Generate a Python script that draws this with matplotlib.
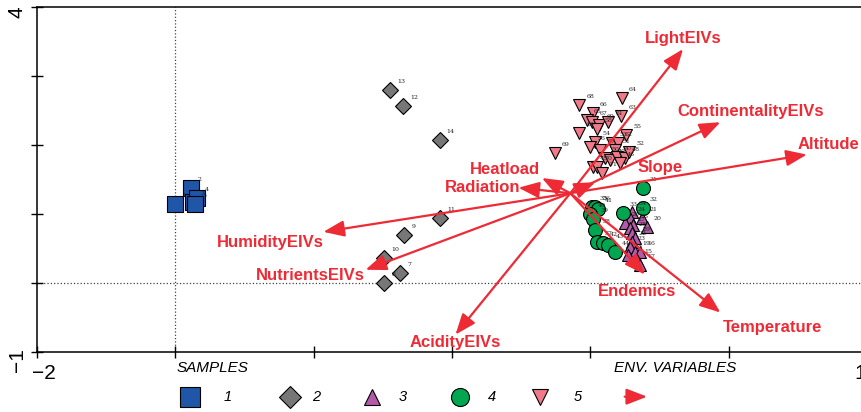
import matplotlib
matplotlib.use("Agg")
import matplotlib.pyplot as plt
from matplotlib.lines import Line2D

# ---- data ----
g1_x = [0.00, 0.22, 0.26, 0.32, 0.29]
g1_y = [1.14, 1.38, 1.17, 1.23, 1.14]
g1_lab = ["1", "2", "3", "4", "5"]

g2_x = [3.11, 3.29, 3.82, 3.83, 3.31, 3.02, 3.25, 3.02]
g2_y = [2.80, 2.57, 2.07, 0.94, 0.70, 0.36, 0.14, 0.00]
g2_lab = ["13", "12", "14", "11", "9", "10", "7", "8"]

g3_x = [6.60, 6.58, 6.50, 6.62, 6.75, 6.82, 6.58, 6.60, 6.65, 6.60, 6.58, 6.65, 6.54, 6.72, 6.68, 6.72]
g3_y = [1.03, 0.94, 0.87, 0.84, 0.94, 0.81, 0.80, 0.72, 0.65, 0.59, 0.52, 0.45, 0.41, 0.45, 0.33, 0.26]
g3_lab = ["34", "24", "26", "25", "21", "20", "27", "28", "29", "22", "23", "19", "18", "16", "15", "17"]

g4_x = [6.76, 6.76, 6.03, 6.07, 6.11, 6.00, 6.04, 6.07, 6.10, 6.18, 6.26, 6.36, 6.47]
g4_y = [1.38, 1.09, 1.10, 1.10, 1.07, 1.00, 0.93, 0.77, 0.59, 0.58, 0.55, 0.45, 1.01]
g4_lab = ["31", "32", "35", "36", "41", "40", "39", "38", "37", "42", "43", "44", "33"]

g5_x = [6.46, 5.84, 6.04, 5.95, 6.03, 6.13, 6.26, 6.45, 6.10, 5.84, 5.49, 6.52, 6.07,
        6.00, 6.14, 6.32, 6.40, 6.36, 6.21, 6.29, 6.39, 6.50, 6.43, 6.04, 6.10, 6.17, 6.56]
g5_y = [2.68, 2.58, 2.46, 2.36, 2.33, 2.29, 2.33, 2.42, 2.23, 2.17, 1.88, 2.14, 2.04,
        1.97, 1.93, 2.03, 2.03, 1.93, 1.81, 1.78, 1.83, 1.81, 1.74, 1.68, 1.68, 1.59, 1.90]
g5_lab = ["64", "68", "66", "65", "67", "60", "61", "63", "58", "59", "69", "55", "54",
          "56", "57", "53", "62", "51", "50", "49", "47", "48", "46", "45", "70", "71", "52"]

origin = (5.71, 1.30)
env_names = ["LightEIVs", "ContinentalityEIVs", "Altitude", "Slope", "Heatload", "Radiation",
             "HumidityEIVs", "NutrientsEIVs", "AcidityEIVs", "Endemics", "Temperature"]
env_x = [7.34, 7.88, 9.13, 6.07, 5.30, 4.96, 2.14, 2.75, 4.05, 6.79, 7.88]
env_y = [3.39, 2.33, 1.86, 1.46, 1.52, 1.38, 0.74, 0.19, -0.75, 0.12, -0.43]
lab_x = [7.34, 8.31, 9.44, 7.01, 4.77, 4.44, 1.37, 1.95, 4.05, 6.68, 8.64]
lab_y = [3.55, 2.48, 2.00, 1.67, 1.64, 1.39, 0.58, 0.10, -0.86, -0.13, -0.64]

RED = "#ee2a35"
styles = [
    ("s", "#1f56a8", 11),
    ("D", "#777777", 8),
    ("^", "#b35aa8", 9),
    ("o", "#00a650", 10),
    ("v", "#f07a8a", 9),
]
groups = [(g1_x, g1_y, g1_lab), (g2_x, g2_y, g2_lab), (g3_x, g3_y, g3_lab),
          (g4_x, g4_y, g4_lab), (g5_x, g5_y, g5_lab)]

fig = plt.figure(figsize=(8.61, 4.12), dpi=100)
ax = fig.add_axes([0.043, 0.146, 0.964, 0.837])
ax.set_xlim(-2, 10)
ax.set_ylim(-1, 4)

ax.axvline(0, color="#444444", ls=":", lw=0.9, zorder=1)
ax.axhline(0, color="#444444", ls=":", lw=0.9, zorder=1)

for (xs, ys, labs), (mk, col, ms) in zip(groups, styles):
    ax.plot(xs, ys, ls="none", marker=mk, ms=ms, mfc=col, mec="black", mew=0.8, zorder=3)
    for x, y, t in zip(xs, ys, labs):
        ax.text(x + 0.1, y + 0.1, t, fontsize=4.5, family="DejaVu Serif",
                color="#222222", zorder=4)

for name, ex, ey, lx, ly in zip(env_names, env_x, env_y, lab_x, lab_y):
    ax.annotate("", xy=(ex, ey), xytext=origin,
                arrowprops=dict(arrowstyle="-|>,head_length=0.9,head_width=0.35",
                                color=RED, lw=1.6, shrinkA=0, shrinkB=0,
                                mutation_scale=14),
                zorder=5)
    ax.text(lx, ly, name, color=RED, fontsize=12, fontweight="bold",
            family="Liberation Sans", ha="center", va="center", zorder=6)

# ticks: every 2 on x, every 1 on y; only the end values are labelled
ax.set_xticks(range(-2, 11, 2))
ax.set_yticks(range(-1, 5))
ax.tick_params(which="both", direction="inout", length=9, width=1.0,
               labelbottom=False, labelleft=False)
for s in ax.spines.values():
    s.set_linewidth(1.1)

tick_kw = dict(transform=ax.transAxes, fontsize=15, family="Liberation Sans",
               ha="center", va="center", clip_on=False)
ax.text(-0.024, 0.986, "4", rotation=90, **tick_kw)
ax.text(-0.024, -0.023, "\u22121", rotation=90, **tick_kw)
ax.text(0.008, -0.064, "\u22122", **tick_kw)
ax.text(0.999, -0.064, "10", **tick_kw)

ax.text(0.54, -1.23, "SAMPLES", fontsize=11, style="italic",
        family="Liberation Sans", ha="center", va="center")
ax.text(7.22, -1.23, "ENV. VARIABLES", fontsize=11, style="italic",
        family="Liberation Sans", ha="center", va="center")

# legend row
leg_y = -0.130
leg_items = [(0.184, 0.230), (0.305, 0.336), (0.404, 0.441), (0.510, 0.548), (0.606, 0.652)]
for (mx, tx), (mk, col, ms), lab in zip(leg_items, styles, ["1", "2", "3", "4", "5"]):
    ax.add_line(Line2D([mx], [leg_y], marker=mk, ms=ms + 3, mfc=col, mec="black",
                       mew=0.8, transform=ax.transAxes, clip_on=False))
    ax.text(tx, leg_y, lab, transform=ax.transAxes, fontsize=10.5, style="italic",
            family="Liberation Sans", ha="center", va="center")
ax.annotate("", xy=(0.735, leg_y), xytext=(0.708, leg_y), xycoords="axes fraction",
            arrowprops=dict(arrowstyle="-|>,head_length=0.9,head_width=0.35",
                            color=RED, lw=1.6, shrinkA=0, shrinkB=0, mutation_scale=14),
            annotation_clip=False)

fig.savefig("out.png", dpi=100)
